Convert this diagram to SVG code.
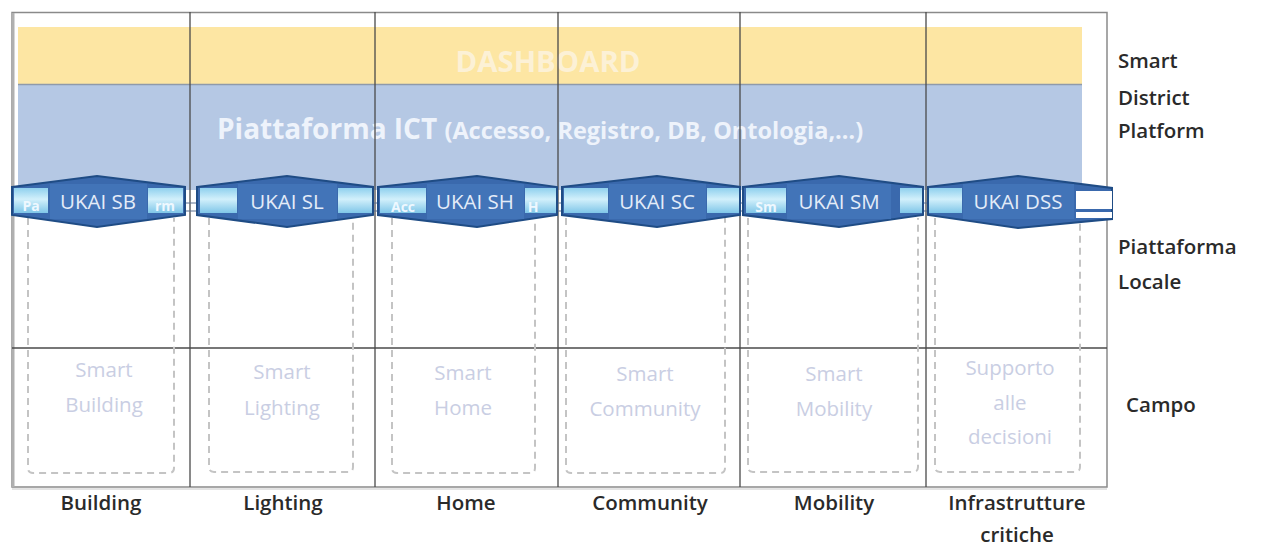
<svg xmlns="http://www.w3.org/2000/svg" width="1261" height="548" viewBox="0 0 1261 548">
<style>
.lbl{font-family:"Open Sans","Noto Sans","Liberation Sans",sans-serif;font-size:20.5px;font-weight:600;fill:#2a2a2a}
.fld{font-family:"Open Sans","Noto Sans","Liberation Sans",sans-serif;font-size:20.5px;fill:#c9cee3;text-anchor:middle}
.uk{font-family:"Open Sans","Noto Sans","Liberation Sans",sans-serif;font-size:20.5px;fill:#e4ecf8;text-anchor:middle}
.sm{font-family:"Open Sans","Noto Sans","Liberation Sans",sans-serif;font-size:14px;font-weight:bold;fill:#eef8ff;text-anchor:middle}
.hex{fill:#3a69ad;stroke:#1f4c85;stroke-width:2}
.core{fill:#4274b8}
.side{fill:url(#cy)}
.dash{fill:none;stroke:#c4c4c4;stroke-width:2;stroke-dasharray:7 5}
.col{stroke:#4a4a4a;stroke-width:1.3}
</style>
<defs>
<linearGradient id="cy" x1="0" y1="0" x2="0" y2="1">
<stop offset="0" stop-color="#8fd0ee"/>
<stop offset="0.45" stop-color="#d2f0fb"/>
<stop offset="1" stop-color="#7fc6e8"/>
</linearGradient>
</defs>
<rect width="1261" height="548" fill="#ffffff"/>
<g id="bands">
<rect x="18" y="27" width="1064" height="57" fill="#fde6a3"/>
<rect x="18" y="85" width="1064" height="105" fill="#b5c8e4"/>
<line x1="18" y1="84.5" x2="1082" y2="84.5" stroke="#8f9aaa" stroke-width="1.5"/>
<text x="548" y="72" font-family="Open Sans, Noto Sans, Liberation Sans, sans-serif" font-size="28" font-weight="bold" fill="#fcf1d6" text-anchor="middle" textLength="185" lengthAdjust="spacingAndGlyphs">DASHBOARD</text>
<text x="217" y="139" font-family="Open Sans, Noto Sans, Liberation Sans, sans-serif" font-weight="bold" fill="#eef3fb"><tspan font-size="28">Piattaforma ICT </tspan><tspan font-size="23.5">(Accesso, Registro, DB, Ontologia,…)</tspan></text>
</g>
<g id="frame">
<rect x="12" y="12.5" width="1095" height="474.5" fill="none" stroke="#8a8a8a" stroke-width="1.5"/>
<line x1="13" y1="13" x2="13" y2="487" stroke="#b0b0b0" stroke-width="3"/>
<line x1="12" y1="489" x2="1107" y2="489" stroke="#c8c8c8" stroke-width="1"/>
<line class="col" x1="12" y1="348" x2="1107" y2="348"/>
<line class="col" x1="190" y1="12" x2="190" y2="487"/>
<line class="col" x1="375" y1="12" x2="375" y2="487"/>
<line class="col" x1="558" y1="12" x2="558" y2="487"/>
<line class="col" x1="740" y1="12" x2="740" y2="487"/>
<line class="col" x1="926" y1="12" x2="926" y2="487"/>
</g>
<g id="connectors">
<line x1="12" y1="203" x2="1112" y2="203" stroke="#5d7090" stroke-width="1"/>
<line x1="12" y1="211" x2="1112" y2="211" stroke="#5d7090" stroke-width="1.2"/>
</g>
<g id="field-boxes">
<path class="dash" d="M28 218 V468 Q28 473 33 473 H169 Q174 473 174 468 V218"/>
<path class="dash" d="M209 218 V467 Q209 472 214 472 H348 Q353 472 353 467 V218"/>
<path class="dash" d="M392 218 V468 Q392 473 397 473 H530 Q535 473 535 468 V218"/>
<path class="dash" d="M566 218 V468 Q566 473 571 473 H720 Q725 473 725 468 V218"/>
<path class="dash" d="M748 218 V467 Q748 472 753 472 H913 Q918 472 918 467 V218"/>
<path class="dash" d="M935 218 V467 Q935 472 940 472 H1075 Q1080 472 1080 467 V218"/>
</g>
<g id="ukai-sb">
<polygon class="hex" points="12,187 97,176 185,187 185,215 97,227 12,215"/>
<rect class="core" x="50" y="184" width="97" height="35"/>
<rect class="side" x="14" y="188" width="34" height="25"/>
<rect class="side" x="148" y="188" width="35" height="25"/>
<text class="sm" x="31" y="211">Pa</text>
<text class="sm" x="165" y="211">rm</text>
<text class="uk" x="98" y="209">UKAI SB</text>
</g>
<g id="ukai-sl">
<polygon class="hex" points="197,187 287,176 373,187 373,215 287,227 197,215"/>
<rect class="core" x="238" y="184" width="99" height="35"/>
<rect class="side" x="200" y="188" width="37" height="25"/>
<rect class="side" x="338" y="188" width="34" height="25"/>
<text class="uk" x="287" y="209">UKAI SL</text>
</g>
<g id="ukai-sh">
<polygon class="hex" points="378,187 477,176 557,187 557,215 477,227 378,215"/>
<rect class="core" x="427" y="184" width="97" height="35"/>
<rect class="side" x="380" y="188" width="46" height="25"/>
<rect class="side" x="525" y="188" width="31" height="25"/>
<text class="sm" x="403" y="212">Acc</text>
<text class="sm" x="533" y="212">H</text>
<text class="uk" x="475" y="209">UKAI SH</text>
</g>
<g id="ukai-sc">
<polygon class="hex" points="562,187 657,176 740,187 740,215 657,227 562,215"/>
<rect class="core" x="609" y="184" width="97" height="35"/>
<rect class="side" x="564" y="188" width="44" height="25"/>
<rect class="side" x="707" y="188" width="32" height="25"/>
<text class="uk" x="657" y="209">UKAI SC</text>
</g>
<g id="ukai-sm">
<polygon class="hex" points="743,187 839,176 923,187 923,215 839,227 743,215"/>
<rect class="core" x="787" y="184" width="104" height="35"/>
<rect class="side" x="746" y="188" width="40" height="25"/>
<rect class="side" x="900" y="188" width="22" height="25"/>
<text class="sm" x="766" y="212">Sm</text>
<text class="uk" x="839" y="209">UKAI SM</text>
</g>
<g id="ukai-dss">
<polygon class="hex" points="928,187 1018,176 1112,188 1112,219 1018,228 928,215"/>
<rect class="core" x="963" y="184" width="111" height="35"/>
<rect class="side" x="929" y="188" width="33" height="25"/>
<rect x="1076" y="191" width="36" height="18" fill="#ffffff"/>
<rect x="1076" y="212" width="36" height="6" fill="#ffffff"/>
<text class="uk" x="1018" y="209">UKAI DSS</text>
</g>
<g id="field-texts">
<text class="fld" x="104" y="377">Smart</text>
<text class="fld" x="104" y="412">Building</text>
<text class="fld" x="282" y="379">Smart</text>
<text class="fld" x="282" y="415">Lighting</text>
<text class="fld" x="463" y="380">Smart</text>
<text class="fld" x="463" y="415">Home</text>
<text class="fld" x="645" y="381">Smart</text>
<text class="fld" x="645" y="416">Community</text>
<text class="fld" x="834" y="381">Smart</text>
<text class="fld" x="834" y="416">Mobility</text>
<text class="fld" x="1010" y="375">Supporto</text>
<text class="fld" x="1010" y="410">alle</text>
<text class="fld" x="1010" y="444">decisioni</text>
</g>
<g id="column-labels">
<text class="lbl" x="101" y="510" text-anchor="middle">Building</text>
<text class="lbl" x="283" y="510" text-anchor="middle">Lighting</text>
<text class="lbl" x="466" y="510" text-anchor="middle">Home</text>
<text class="lbl" x="650" y="510" text-anchor="middle">Community</text>
<text class="lbl" x="834" y="510" text-anchor="middle">Mobility</text>
<text class="lbl" x="1017" y="510" text-anchor="middle">Infrastrutture</text>
<text class="lbl" x="1017" y="542" text-anchor="middle">critiche</text>
</g>
<g id="row-labels">
<text class="lbl" x="1118" y="68">Smart</text>
<text class="lbl" x="1118" y="105">District</text>
<text class="lbl" x="1118" y="138">Platform</text>
<text class="lbl" x="1118" y="254">Piattaforma</text>
<text class="lbl" x="1118" y="289">Locale</text>
<text class="lbl" x="1126" y="412">Campo</text>
</g>
</svg>
